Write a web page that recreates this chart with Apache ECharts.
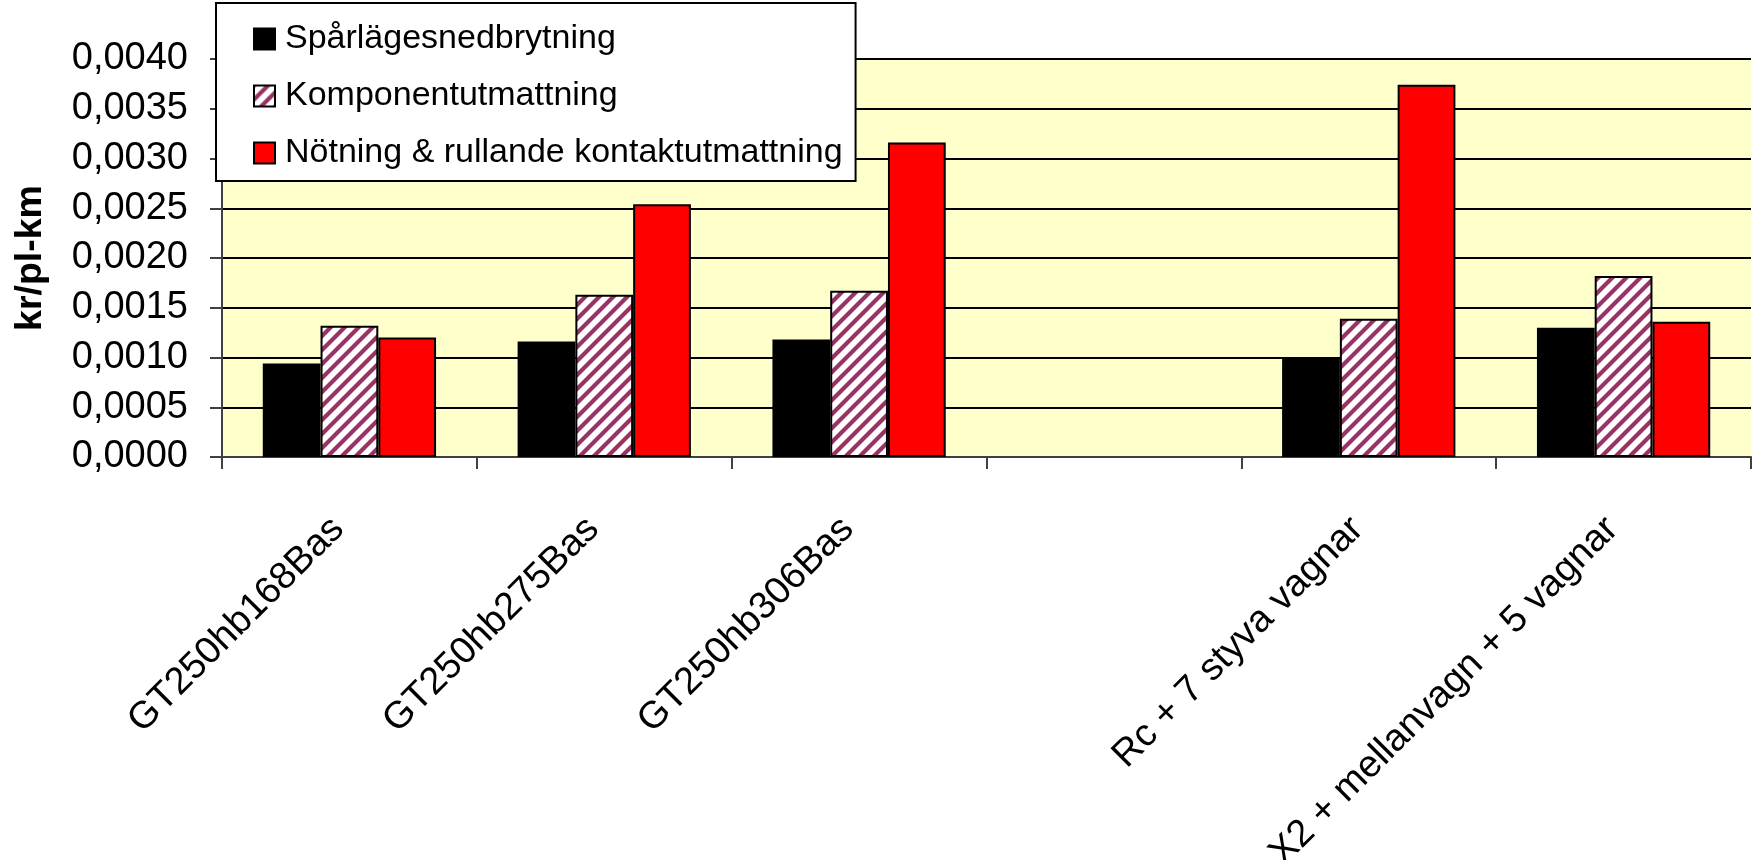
<!DOCTYPE html>
<html>
<head>
<meta charset="utf-8">
<script src="https://cdn.jsdelivr.net/npm/echarts@6/dist/echarts.min.js"></script>
<style>
  html, body { margin: 0; padding: 0; background: #ffffff; }
  #chart { width: 1752px; height: 860px; }
</style>
</head>
<body>
<div id="chart"></div>
<script>
// Vehicle configurations (the empty slot keeps a visual gap between groups)
const categories = ['GT250hb168Bas', 'GT250hb275Bas', 'GT250hb306Bas', '', 'Rc + 7 styva vagnar', 'X2 + mellanvagn + 5 vagnar'];

// Cost per passenger-km (kr/pl-km) for each damage mechanism
const seriesNames = ['Spårlägesnedbrytning', 'Komponentutmattning', 'Nötning & rullande kontaktutmattning'];
const sparlage   = [0.00094, 0.00116, 0.00118, null, 0.00099, 0.00130];
const komponent  = [0.00132, 0.00163, 0.00167, null, 0.00139, 0.00182];
const notning    = [0.00120, 0.00254, 0.00316, null, 0.00374, 0.00136];

// Value axis range
const yMin = 0;
const yMax = 0.004;
const yStep = 0.0005;

const FONT = "'Liberation Sans', Arial, sans-serif";

// Diagonal hatch fill (white with purple "/" stripes)
function makeHatch() {
  const s = 14;
  const c = document.createElement('canvas');
  c.width = s; c.height = s;
  const g = c.getContext('2d');
  g.fillStyle = '#ffffff';
  g.fillRect(0, 0, s, s);
  g.strokeStyle = '#993366';
  g.lineWidth = 4.2;
  g.beginPath();
  for (let k = -1; k <= 1; k++) {
    g.moveTo(k * s - 2, s + 2);
    g.lineTo(k * s + s + 2, -2);
  }
  g.stroke();
  return { image: c, repeat: 'repeat' };
}

const chart = echarts.init(document.getElementById('chart'), null, { renderer: 'canvas' });

const barCommon = {
  type: 'bar',
  barGap: '0%',
  barCategoryGap: '32%',
  animation: false
};

chart.setOption({
  animation: false,
  backgroundColor: '#ffffff',
  grid: {
    left: 222,
    top: 59,
    right: 1,
    bottom: 403,
    outerBoundsMode: 'none',
    containLabel: false,
    show: true,
    backgroundColor: '#FFFFCC',
    borderWidth: 0
  },
  legend: {
    orient: 'vertical',
    left: 216,
    top: 3,
    backgroundColor: '#ffffff',
    borderColor: '#000000',
    borderWidth: 2,
    padding: [19, 13, 11, 37],
    itemWidth: 21,
    itemHeight: 21,
    itemGap: 23,
    icon: 'rect',
    textStyle: {
      fontFamily: FONT,
      fontSize: 34,
      lineHeight: 34,
      color: '#000000',
      padding: [0, 0, 0, 5]
    },
    data: seriesNames
  },
  xAxis: {
    type: 'category',
    data: categories,
    axisLine: { show: true, lineStyle: { color: '#404040', width: 2 } },
    axisTick: { show: true, length: 12, lineStyle: { color: '#404040', width: 2 } },
    axisLabel: {
      rotate: 45,
      margin: 55,
      interval: 0,
      fontFamily: FONT,
      fontSize: 38,
      color: '#000000',
      padding: [0, 16, 0, 0]
    },
    splitLine: { show: false }
  },
  yAxis: {
    type: 'value',
    min: yMin,
    max: yMax,
    interval: yStep,
    name: 'kr/pl-km',
    nameLocation: 'middle',
    nameGap: 172,
    nameTextStyle: {
      fontFamily: FONT,
      fontSize: 37.5,
      fontWeight: 'bold',
      color: '#000000'
    },
    axisLine: { show: true, lineStyle: { color: '#404040', width: 2 } },
    axisTick: { show: true, length: 12, lineStyle: { color: '#404040', width: 2 } },
    axisLabel: {
      margin: 34,
      fontFamily: FONT,
      fontSize: 38,
      color: '#000000',
      formatter: v => v.toFixed(4).replace('.', ',')
    },
    splitLine: { show: true, lineStyle: { color: '#000000', width: 2 } }
  },
  series: [
    Object.assign({}, barCommon, {
      name: seriesNames[0],
      data: sparlage,
      itemStyle: { color: '#000000', borderColor: '#000000', borderWidth: 2 }
    }),
    Object.assign({}, barCommon, {
      name: seriesNames[1],
      data: komponent,
      itemStyle: { color: makeHatch(), borderColor: '#000000', borderWidth: 2 }
    }),
    Object.assign({}, barCommon, {
      name: seriesNames[2],
      data: notning,
      itemStyle: { color: '#FF0000', borderColor: '#000000', borderWidth: 2 }
    })
  ]
});
</script>
</body>
</html>
